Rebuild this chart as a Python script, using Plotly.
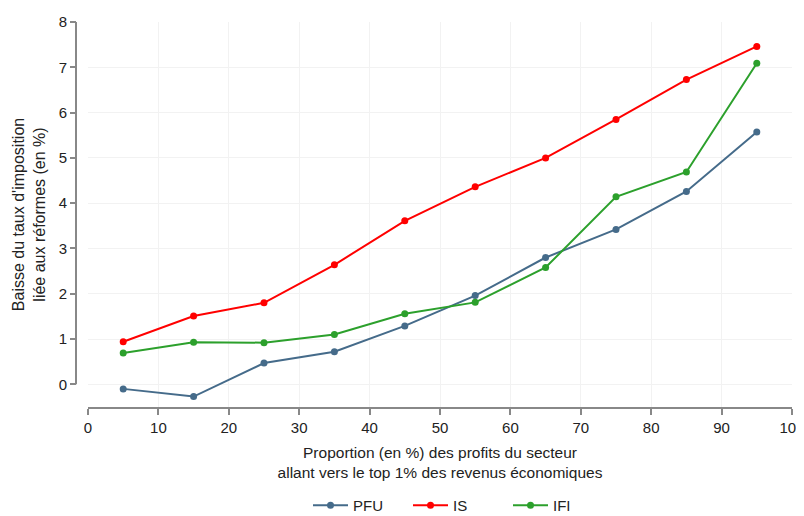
import plotly.graph_objects as go

x_vals = [5, 15, 25, 35, 45, 55, 65, 75, 85, 95]
pfu = [-0.10, -0.27, 0.47, 0.72, 1.29, 1.96, 2.80, 3.42, 4.26, 5.57]
is_ = [0.94, 1.51, 1.80, 2.64, 3.61, 4.36, 5.00, 5.85, 6.73, 7.46]
ifi = [0.69, 0.93, 0.92, 1.10, 1.56, 1.81, 2.58, 4.14, 4.69, 7.09]

series = [("PFU", pfu, "#456b8a"), ("IS", is_, "#ff0000"), ("IFI", ifi, "#2ca02c")]
x_ticks = list(range(0, 101, 10))
y_ticks = list(range(0, 9))

W, H = 796, 508
ml, mr, mt, mb = 68, 12, 14, 109
pw = W - ml - mr

fig = go.Figure()
for name, vals, col in series:
    fig.add_trace(go.Scatter(
        x=x_vals, y=vals, name=name, mode="lines+markers",
        line=dict(color=col, width=2),
        marker=dict(color=col, size=7),
    ))

font = dict(family="Liberation Sans, Arial, sans-serif", size=15, color="#222")

fig.update_layout(
    width=W, height=H,
    margin=dict(l=ml, r=mr, t=mt, b=mb, autoexpand=False),
    paper_bgcolor="white", plot_bgcolor="white",
    font=font,
    showlegend=True,
    legend=dict(orientation="h", xref="container", yref="container",
                x=300 / W, xanchor="left", y=27 / H, yanchor="top",
                font=dict(size=15), tracegroupgap=0, itemwidth=35,
                entrywidth=50, entrywidthmode="pixels"),
    xaxis=dict(
        domain=[12 / pw, 1], range=[0, 100], tickvals=x_ticks,
        showgrid=True, gridcolor="#f2f2f2", gridwidth=1,
        showline=True, linecolor="#888", linewidth=2,
        ticks="outside", ticklen=6, tickwidth=2, tickcolor="#888",
        zeroline=False, automargin=False, ticklabeloverflow="allow",
        title=dict(text="Proportion (en %) des profits du secteur<br>allant vers le top 1% des revenus économiques",
                   font=dict(size=15.5), standoff=12),
    ),
    yaxis=dict(
        anchor="free", position=0, range=[-0.5, 8.0], tickvals=y_ticks,
        showgrid=True, gridcolor="#f2f2f2", gridwidth=1,
        showline=False,
        ticks="outside", ticklen=6, tickwidth=2, tickcolor="#888",
        zeroline=False, automargin=False,
        title=dict(text="Baisse du taux d'imposition<br>liée aux réformes (en %)",
                   font=dict(size=16), standoff=8),
    ),
)

fig.add_shape(type="line", xref="paper", yref="y", x0=0, x1=0, y0=0, y1=8,
              line=dict(color="#888", width=2))

fig.write_html("out.html")
